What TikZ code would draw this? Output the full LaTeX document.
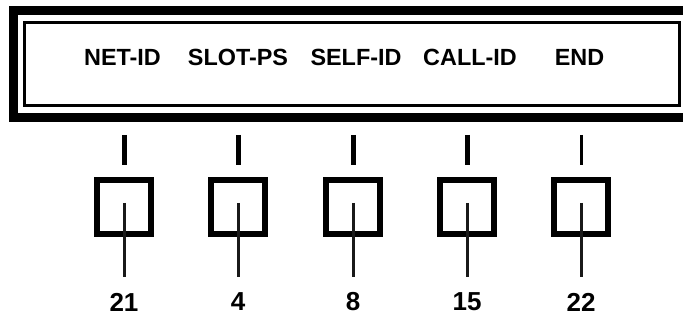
\documentclass[tikz,border=0pt]{standalone}
\usepackage{fontspec}
\setmainfont{Liberation Sans}
\usetikzlibrary{calc}
\begin{document}
\begin{tikzpicture}[x=1pt,y=-1pt,
  fieldlabel/.style={font=\bfseries\fontsize{23.4}{28}\selectfont, inner sep=0pt, anchor=center},
  numlabel/.style={font=\bfseries\fontsize{26}{30}\selectfont, inner sep=0pt, anchor=center},
  pinbox/.style={draw=black, line width=6pt, minimum width=54pt, minimum height=54pt, inner sep=0pt, fill=none},
  leadline/.style={line width=3pt, draw=black!90}
]
\useasboundingbox (0,0) rectangle (683,320);
\fill[white] (0,0) rectangle (683,320);
% frame
\draw[line width=9pt] (13.5,11) rectangle (700,118);
\draw[line width=3pt] (24.5,23) rectangle (679,105.5);
% field labels
\node[fieldlabel] (f1) at (122.5,57.5) {NET-ID};
\node[fieldlabel] (f2) at (238,57.5) {SLOT-PS};
\node[fieldlabel] (f3) at (356,57.5) {SELF-ID};
\node[fieldlabel] (f4) at (470,57.5) {CALL-ID};
\node[fieldlabel] (f5) at (579.5,57.5) {END};
% boxes, ticks, lines, numbers
\foreach \i/\x/\n/\tw in {1/124/21/5, 2/238/4/5, 3/353/8/5, 4/467/15/5, 5/581/22/3}{
  \node[pinbox] (b\i) at (\x,207) {};
  \coordinate (t\i a) at (\x,135);
  \coordinate (t\i b) at (\x,165);
  \draw[line width=\tw pt] (t\i a) -- (t\i b);
  \coordinate (s\i) at (\x,203);
  \node[numlabel] (n\i) at (\x,302) {\n};
  \coordinate (e\i) at (\x,277);
  \draw[leadline] (s\i) -- (e\i);
}
\end{tikzpicture}
\end{document}
